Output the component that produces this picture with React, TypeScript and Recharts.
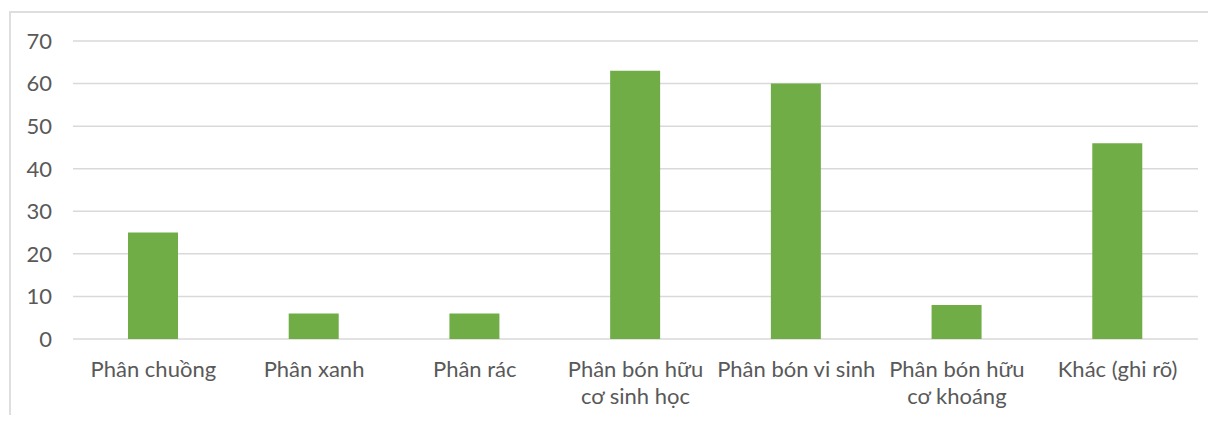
import React from 'react';
import { BarChart, Bar, XAxis, YAxis, CartesianGrid } from 'recharts';

// loại phân bón và số lượng tương ứng
const categories = [
    'Phân chuồng',
    'Phân xanh',
    'Phân rác',
    'Phân bón hữu\ncơ sinh học',
    'Phân bón vi sinh',
    'Phân bón hữu\ncơ khoáng',
    'Khác (ghi rõ)',
];
const counts = [25, 6, 6, 63, 60, 8, 46];
const yTicks = [0, 10, 20, 30, 40, 50, 60, 70];

const data = categories.map((name, i) => ({ name, value: counts[i] }));

const FONT = 'Lato, "Open Sans", sans-serif';
const TEXT_COLOR = '#595959';

// nhãn trục X có thể xuống dòng theo ký tự \n
const CategoryTick = (props: any) => {
    const { x, y, payload } = props;
    const lines = String(payload.value).split('\n');
    return (
        <text x={x} y={y} textAnchor="middle" fill={TEXT_COLOR} fontSize={22} fontFamily={FONT}>
            {lines.map((line, i) => (
                <tspan key={i} x={x} dy={i === 0 ? '0.71em' : 27}>{line}</tspan>
            ))}
        </text>
    );
};

const App: React.FC = () => {
    return (
        <div style={{ position: 'relative', width: 1216, height: 423, margin: -8, overflow: 'hidden', background: '#fff' }}>
            <div style={{
                position: 'absolute', left: 9, top: 11, width: 1300, height: 500,
                border: '2px solid #dedede', boxSizing: 'border-box',
            }} />
            <div style={{ position: 'absolute', left: 0, top: 0 }}>
                <BarChart width={1216} height={423} data={data}
                    margin={{ top: 41, right: 18, left: 0, bottom: 24 }}>
                    <CartesianGrid vertical={false} stroke="#d9d9d9" strokeWidth={1.5} />
                    <XAxis dataKey="name" height={60} axisLine={false} tickLine={false}
                        tickSize={0} tickMargin={22} interval={0} tick={<CategoryTick />} />
                    <YAxis width={73} domain={[0, 70]} ticks={yTicks} axisLine={false} tickLine={false}
                        tickSize={0} tickMargin={21}
                        tick={{ fill: TEXT_COLOR, fontSize: 22, fontFamily: FONT }} />
                    <Bar dataKey="value" fill="#70AD47" barSize={50} isAnimationActive={false} />
                </BarChart>
            </div>
        </div>
    );
};

export default App;
